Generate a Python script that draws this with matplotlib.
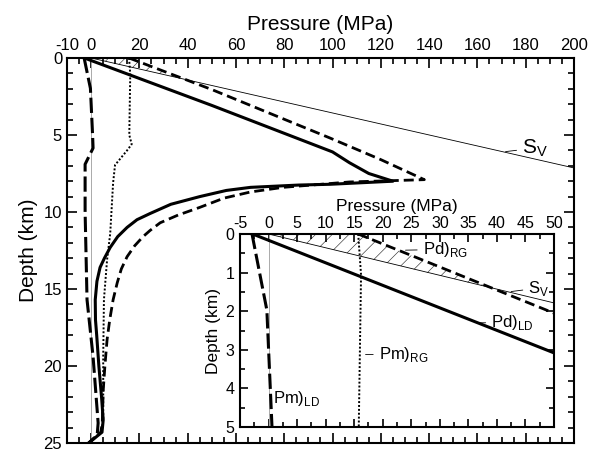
import matplotlib
matplotlib.use('Agg')
import matplotlib.pyplot as plt

plt.rcParams['font.family'] = ['Liberation Sans', 'DejaVu Sans']
plt.rcParams['mathtext.fontset'] = 'custom'
plt.rcParams['mathtext.rm'] = 'Liberation Sans'
plt.rcParams['hatch.linewidth'] = 0.45
plt.rcParams['axes.unicode_minus'] = False

# Pd)LD  (solid)
pd_ld_z = [0, 3.08, 6.1, 6.8, 7.5, 8.0, 8.2, 8.25, 8.4, 8.6, 9.0, 9.5, 10.1, 10.5, 11.0,
           11.6, 12.3, 13.0, 13.6, 14.5, 15.7, 17.0, 18.0, 20.0, 22.0, 23.5, 24.3, 25.0]
pd_ld_p = [-2.8, 50, 100, 107, 115, 125, 99, 86, 66, 56, 45, 33, 24.4, 19, 14.9,
           11, 7.9, 5.5, 3.7, 2.4, 1.7, 1.8, 2.3, 3.2, 4.3, 5.0, 4.5, -1]

# Pd)RG  (dashed)
pd_rg_z = [0, 2.05, 5.2, 6.6, 7.9, 8.05, 8.4, 8.7, 9.1, 9.7, 10.2, 10.7, 11.2, 11.6, 12.2,
           12.9, 13.7, 14.6, 15.7, 17.0, 18.3, 20.0, 21.6, 23.7, 24.3, 25.0]
pd_rg_p = [15.7, 50, 99, 120, 138, 107, 79.5, 66, 55, 45, 36, 28.6, 24.4, 21.5, 18,
           14.9, 12.5, 10.8, 9.1, 7.7, 6.6, 5.7, 5.0, 4.6, 4.0, -1]

# Pm)RG  (dotted)
pm_rg_z = [0, 1.06, 3.0, 5.0, 5.6, 6.0, 6.95, 8.1, 11.4, 13.1, 15.7, 19.4, 23.5, 24.3, 25.0]
pm_rg_p = [15.7, 16.2, 16.0, 15.8, 16.8, 14.9, 9.9, 9.1, 7.9, 6.6, 5.3, 5.0, 5.0, 4.0, -1]

# Pm)LD  (long dash)
pm_ld_z = [0, 1.97, 5.0, 5.85, 6.9, 10.0, 15.7, 19.4, 23.7, 24.5, 25.0]
pm_ld_p = [-2.9, -0.3, 0.6, 0.8, -2.5, -2.5, -1.7, 0.8, 2.9, 2.5, -1]

# Sv (thin line)
sv_z = [0, 7.14]
sv_p = [0, 200]

# zero line
zero_z = [0, 25]
zero_p = [0, 0]

# hatched area between Sv and Pd)RG
hatch_z = [0, 1.4]
hatch_left = [0, 39]
hatch_right = [15.7, 39]

fig = plt.figure(figsize=(5.95, 4.5), dpi=100)
ax = fig.add_axes([0.1126, 0.0156, 0.8521, 0.8555])
ax2 = fig.add_axes([0.4034, 0.0511, 0.5277, 0.4289])


def draw(a):
    a.plot(zero_p, zero_z, color='#aaaaaa', lw=0.7)
    a.fill_betweenx(hatch_z, hatch_left, hatch_right, facecolor='none',
                    edgecolor='#333333', hatch='//', lw=0)
    a.plot(sv_p, sv_z, color='black', lw=0.6)
    a.plot(pd_ld_p, pd_ld_z, color='black', lw=2.2)
    a.plot(pd_rg_p, pd_rg_z, color='black', lw=2.0, dashes=(3.6, 1.8))
    a.plot(pm_rg_p, pm_rg_z, color='black', lw=1.4, dashes=(1, 1))
    a.plot(pm_ld_p, pm_ld_z, color='black', lw=2.2, dashes=(5, 1.6))
    for s in a.spines.values():
        s.set_linewidth(1.5)


draw(ax)
ax.set_xlim(-10, 200)
ax.set_ylim(25, 0)
ax.set_xticks([-10, 0, 20, 40, 60, 80, 100, 120, 140, 160, 180, 200])
ax.set_xticks(range(-10, 201, 5), minor=True)
ax.set_yticks([0, 5, 10, 15, 20, 25])
ax.set_yticks(range(0, 26), minor=True)
ax.xaxis.set_label_position('top')
ax.tick_params(which='both', direction='in', top=True, bottom=True, left=True, right=True,
               labeltop=True, labelbottom=False, labelsize=12, width=1.2)
ax.tick_params(which='major', length=7)
ax.tick_params(which='minor', length=4)
ax.set_xlabel('Pressure (MPa)', fontsize=15, labelpad=6)
ax.set_ylabel('Depth (km)', fontsize=15, labelpad=4)
ax.annotate(r'S$_{\rm V}$', xy=(170.5, 6.1), xytext=(178.5, 5.85), fontsize=15,
            va='center', ha='left', arrowprops=dict(arrowstyle='-', lw=0.6))

draw(ax2)
ax2.set_facecolor('white')
ax2.set_xlim(-5, 50)
ax2.set_ylim(5, 0)
ax2.set_xticks(range(-5, 51, 5))
ax2.set_xticks([x / 2 for x in range(-10, 101, 5)], minor=True)
ax2.set_yticks(range(0, 6))
ax2.set_yticks([y / 2 for y in range(0, 11)], minor=True)
ax2.xaxis.set_label_position('top')
ax2.tick_params(which='both', direction='in', top=True, bottom=True, left=True, right=True,
                labeltop=True, labelbottom=False, labelsize=11.5, width=1.2, pad=2)
ax2.tick_params(axis='y', pad=4)
ax2.tick_params(which='major', length=6)
ax2.tick_params(which='minor', length=3.5)
ax2.set_xlabel('Pressure (MPa)', fontsize=12.5, labelpad=4)
ax2.set_ylabel('Depth (km)', fontsize=12.5, labelpad=3)

lbl = dict(fontsize=12, va='center', ha='left', arrowprops=dict(arrowstyle='-', lw=0.6))
ax2.annotate(r'Pd)$_{\rm RG}$', xy=(23.5, 0.42), xytext=(27, 0.4), **lbl)
ax2.annotate(r'S$_{\rm V}$', xy=(42, 1.5), xytext=(45.5, 1.4), **lbl)
ax2.annotate(r'Pd)$_{\rm LD}$', xy=(36.5, 2.3), xytext=(39, 2.3), **lbl)
ax2.annotate(r'Pm)$_{\rm RG}$', xy=(16.5, 3.12), xytext=(19.3, 3.12), **lbl)
ax2.text(0.8, 4.25, r'Pm)$_{\rm LD}$', fontsize=12, va='center', ha='left')

fig.savefig('out.png', dpi=100)
